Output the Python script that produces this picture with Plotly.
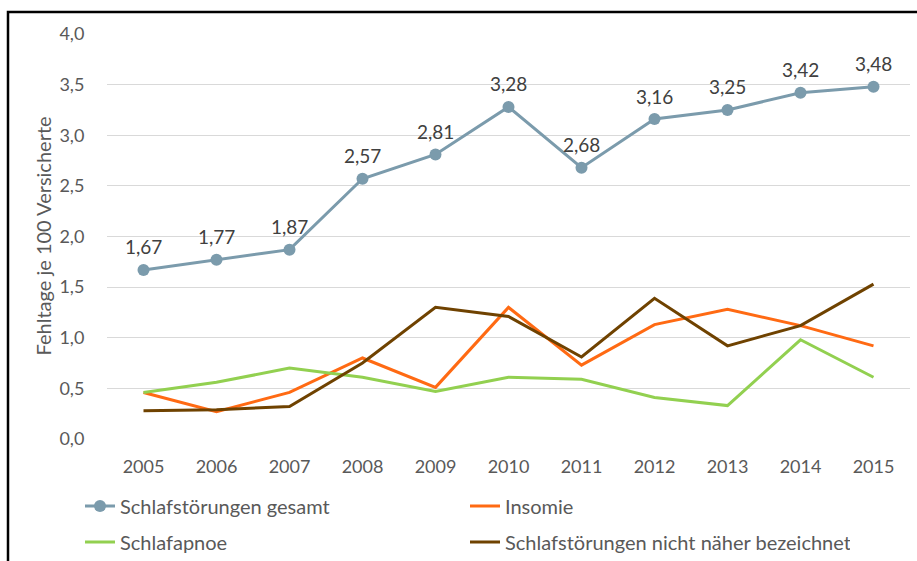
import plotly.graph_objects as go

# Fehltage je 100 Versicherte, 2005-2015
jahre = ["2005", "2006", "2007", "2008", "2009", "2010", "2011", "2012", "2013", "2014", "2015"]
gesamt = [1.67, 1.77, 1.87, 2.57, 2.81, 3.28, 2.68, 3.16, 3.25, 3.42, 3.48]
insomie = [0.46, 0.27, 0.46, 0.80, 0.51, 1.30, 0.73, 1.13, 1.28, 1.12, 0.92]
schlafapnoe = [0.46, 0.56, 0.70, 0.61, 0.47, 0.61, 0.59, 0.41, 0.33, 0.98, 0.61]
nicht_naeher = [0.28, 0.29, 0.32, 0.75, 1.30, 1.21, 0.81, 1.39, 0.92, 1.12, 1.53]

y_ticks = [0.0, 0.5, 1.0, 1.5, 2.0, 2.5, 3.0, 3.5, 4.0]

FONT = "Lato, Carlito, Calibri, sans-serif"
GRAU = "#595959"

W, H = 917, 561
M_L, M_R, M_T, M_B = 107, 7, 34, 122
PW, PH = W - M_L - M_R, H - M_T - M_B


def px_x(p):
    return (p - M_L) / PW


def px_y(p):
    return (H - M_B - p) / PH


fig = go.Figure()

fig.add_trace(go.Scatter(
    x=jahre, y=gesamt, name="Schlafstörungen gesamt", mode="lines+markers",
    line=dict(color="#7B9BAC", width=3), marker=dict(size=12, color="#7B9BAC"),
    legend="legend",
))
fig.add_trace(go.Scatter(
    x=jahre, y=insomie, name="Insomie", mode="lines",
    line=dict(color="#FF6A13", width=3), legend="legend",
))
fig.add_trace(go.Scatter(
    x=jahre, y=schlafapnoe, name="Schlafapnoe", mode="lines",
    line=dict(color="#92D050", width=3), legend="legend2",
))
fig.add_trace(go.Scatter(
    x=jahre, y=nicht_naeher, name="Schlafstörungen nicht näher bezeichnet", mode="lines",
    line=dict(color="#6F4200", width=3), legend="legend2",
))

# value labels above the total series (category index as x position)
for i, v in enumerate(gesamt):
    fig.add_annotation(
        x=i, y=v, xref="x", yref="y", text=f"{v:.2f}".replace(".", ","),
        showarrow=False, yshift=23, xanchor="center", yanchor="middle",
        font=dict(family=FONT, size=19, color="#404040"),
    )

# y axis title
fig.add_annotation(
    x=px_x(42), y=0.5, xref="paper", yref="paper", text="Fehltage je 100 Versicherte",
    textangle=-90, showarrow=False, xanchor="center", yanchor="middle",
    font=dict(family=FONT, size=20, color=GRAU),
)

# frame line on the left and top
fig.add_shape(
    type="path", xref="paper", yref="paper",
    path=f"M {px_x(8)},{px_y(H + 5)} L {px_x(8)},{px_y(12)} L {px_x(W + 5)},{px_y(12)}",
    line=dict(color="black", width=2.5),
)

legend_common = dict(
    orientation="h", xanchor="left", yanchor="middle",
    entrywidth=340, entrywidthmode="pixels",
    font=dict(family=FONT, size=20, color=GRAU), bgcolor="rgba(0,0,0,0)",
)

fig.update_layout(
    width=W, height=H,
    margin=dict(l=M_L, r=M_R, t=M_T, b=M_B, autoexpand=False),
    paper_bgcolor="white", plot_bgcolor="white",
    separators=",.",
    showlegend=True,
    legend=dict(x=px_x(80), y=px_y(506), **legend_common),
    legend2=dict(x=px_x(80), y=px_y(542), **legend_common),
    font=dict(family=FONT, size=18, color=GRAU),
)

fig.update_xaxes(
    type="category", range=[-0.5, len(jahre) - 0.5],
    showgrid=False, zeroline=False, showline=False,
    ticks="outside", ticklen=11, tickcolor="rgba(0,0,0,0)",
    tickfont=dict(family=FONT, size=18, color=GRAU),
)
fig.update_yaxes(
    range=[0, 4], tickvals=y_ticks, tickformat=".1f",
    showgrid=True, gridcolor="#D9D9D9", gridwidth=1,
    zeroline=False, showline=False,
    ticks="outside", ticklen=18, tickcolor="rgba(0,0,0,0)",
    tickfont=dict(family=FONT, size=18, color=GRAU),
)

fig.write_html("out.html")
